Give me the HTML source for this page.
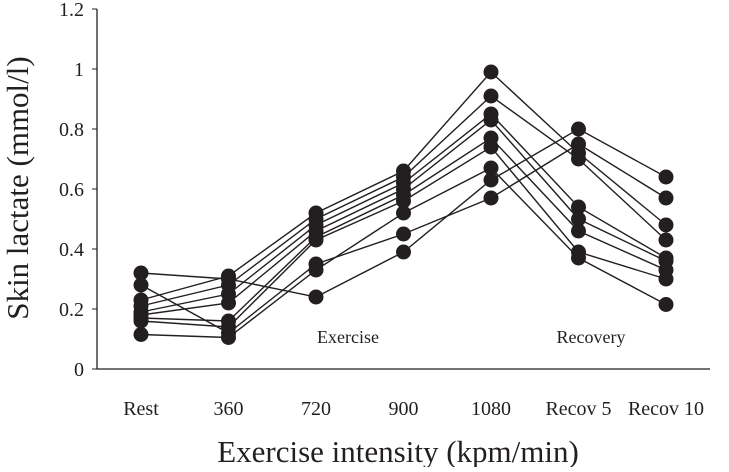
<!DOCTYPE html>
<html><head><meta charset="utf-8"><style>
body{margin:0;background:#fff}
text{font-family:"Liberation Serif",serif;fill:#231f20}
</style></head><body>
<svg id="c" width="729" height="467">
<g id="axes"></g><g id="lines"></g><g id="pts"></g>
</svg>
<script>
const categories=["Rest","360","720","900","1080","Recov 5","Recov 10"];
const yTicks=[0,0.2,0.4,0.6,0.8,1,1.2];
const yTickLabels=["0","0.2","0.4","0.6","0.8","1","1.2"];
const s1=[0.32,0.30,0.24,0.39,0.63,0.80,0.64];
const s2=[0.28,0.12,0.35,0.45,0.57,0.75,0.57];
const s3=[0.23,0.31,0.52,0.66,0.99,0.72,0.48];
const s4=[0.21,0.28,0.50,0.64,0.91,0.70,0.43];
const s5=[0.19,0.25,0.48,0.62,0.85,0.54,0.37];
const s6=[0.18,0.22,0.46,0.60,0.83,0.50,0.36];
const s7=[0.17,0.16,0.44,0.58,0.77,0.46,0.33];
const s8=[0.16,0.14,0.43,0.56,0.74,0.39,0.30];
const s9=[0.115,0.105,0.33,0.52,0.67,0.37,0.215];
const series=[s1,s2,s3,s4,s5,s6,s7,s8,s9];
const NS="http://www.w3.org/2000/svg";
const X0=97,X1=710,Y0=369,Y1=9;
const xs=i=>141+i*87.5;
const ys=v=>Y0-(v/1.2)*(Y0-Y1);
function mk(t,a,p){const e=document.createElementNS(NS,t);for(const k in a)e.setAttribute(k,a[k]);p.appendChild(e);return e;}
const ax=document.getElementById('axes');
let l=mk('line',{x1:X0,y1:Y1,x2:X0,y2:Y0,stroke:'#231f20','stroke-width':1.3},ax);


l=mk('line',{x1:X0,y1:Y0,x2:X1,y2:Y0,stroke:'#231f20','stroke-width':1.3},ax);


yTicks.forEach((v,i)=>{
 mk('line',{x1:X0-5,y1:ys(v),x2:X0,y2:ys(v),stroke:'#231f20'},ax);
 const t=mk('text',{x:X0-13,y:ys(v)+7,'text-anchor':'end','font-size':20},ax);
 t.textContent=yTickLabels[i];
 
 
});
categories.forEach((c,i)=>{
 const t=mk('text',{x:xs(i),y:415,'text-anchor':'middle','font-size':20},ax);
 t.textContent=c;
 
 
});
let t=mk('text',{x:398,y:462,'text-anchor':'middle','font-size':31},ax);t.textContent="Exercise intensity (kpm/min)";


t=mk('text',{x:0,y:0,'text-anchor':'middle','font-size':31,transform:'translate(28,188) rotate(-90)'},ax);t.textContent="Skin lactate (mmol/l)";


t=mk('text',{x:348,y:343,'text-anchor':'middle','font-size':18},ax);t.textContent="Exercise";


t=mk('text',{x:591,y:343,'text-anchor':'middle','font-size':18},ax);t.textContent="Recovery";


const lg=document.getElementById('lines'),pg=document.getElementById('pts');
series.forEach((s,k)=>{
 const p=mk('polyline',{points:s.map((v,i)=>xs(i)+','+ys(v)).join(' '),fill:'none',stroke:'#231f20','stroke-width':1.4},lg);
 
 
 s.forEach((v,i)=>{
  const c=mk('circle',{cx:xs(i),cy:ys(v),r:7.5,fill:'#231f20'},pg);
  
  
 });
});
</script>
</body></html>
